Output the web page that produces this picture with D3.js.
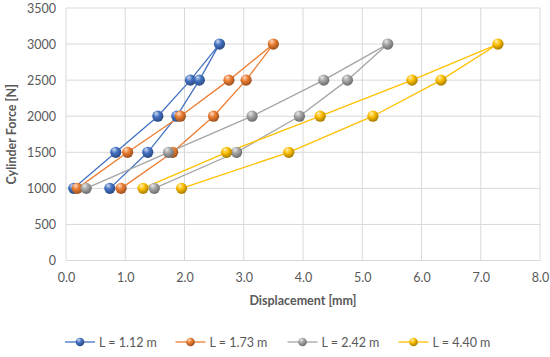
<!DOCTYPE html>
<html><head><meta charset="utf-8">
<script src="https://cdn.jsdelivr.net/npm/d3@7"></script>
<style>body{margin:0;background:#fff}</style>
</head><body>
<svg id="c" width="550" height="357"></svg>
<script>
const seriesNames = ["L = 1.12 m", "L = 1.73 m", "L = 2.42 m", "L = 4.40 m"];
const seriesColors = ["#4472C4", "#ED7D31", "#A5A5A5", "#FFC000"];
const forces = [1000, 1500, 2000, 2500, 3000, 2500, 2000, 1500, 1000];
const disp112 = [0.13, 0.84, 1.55, 2.10, 2.59, 2.25, 1.87, 1.38, 0.74];
const disp173 = [0.19, 1.04, 1.93, 2.75, 3.50, 3.04, 2.49, 1.80, 0.93];
const disp242 = [0.34, 1.73, 3.14, 4.35, 5.43, 4.75, 3.94, 2.88, 1.49];
const disp440 = [1.30, 2.71, 4.29, 5.84, 7.29, 6.33, 5.18, 3.76, 1.95];
const xTicks = [0, 1, 2, 3, 4, 5, 6, 7, 8];
const yTicks = [0, 500, 1000, 1500, 2000, 2500, 3000, 3500];

const allDisp = [disp112, disp173, disp242, disp440];
const svg = d3.select("#c");
const font = "Lato, 'Open Sans', sans-serif";
const x = d3.scaleLinear().domain([0, 8]).range([66, 540]);
const y = d3.scaleLinear().domain([0, 3500]).range([260.5, 8]);

// gradients
const defs = svg.append("defs");
seriesColors.forEach((c, i) => {
  const g = defs.append("radialGradient").attr("id", "g" + i)
    .attr("cx", "40%").attr("cy", "35%").attr("r", "65%").attr("fx", "35%").attr("fy", "25%");
  g.append("stop").attr("offset", "0%").attr("stop-color", d3.interpolateRgb(c, "#fff")(0.75));
  g.append("stop").attr("offset", "45%").attr("stop-color", c);
  g.append("stop").attr("offset", "100%").attr("stop-color", d3.color(c).darker(1.2));
});

// grid
svg.append("g").selectAll("line").data(yTicks).join("line")
  .attr("x1", x(0)).attr("x2", x(8)).attr("y1", d => y(d)).attr("y2", d => y(d))
  .attr("stroke", "#D9D9D9").attr("stroke-width", 1);
svg.append("g").selectAll("line").data(xTicks).join("line")
  .attr("y1", y(0)).attr("y2", y(3500)).attr("x1", d => x(d)).attr("x2", d => x(d))
  .attr("stroke", "#D9D9D9").attr("stroke-width", 1);

// axes tick labels
const xAxis = d3.axisBottom(x).tickValues(xTicks).tickFormat(d3.format(".1f")).tickSize(0).tickPadding(13);
const gx = svg.append("g").attr("transform", `translate(0,${y(0)})`).call(xAxis);
gx.select(".domain").remove();
gx.selectAll("text").attr("font-family", font).attr("font-size", 12.5).attr("fill", "#595959");
const yAxis = d3.axisLeft(y).tickValues(yTicks).tickFormat(d3.format("d")).tickSize(0).tickPadding(10);
const gy = svg.append("g").attr("transform", `translate(${x(0)},0)`).call(yAxis);
gy.select(".domain").remove();
gy.selectAll("text").attr("font-family", font).attr("font-size", 12.5).attr("fill", "#595959");

// titles
svg.append("text").attr("x", 303).attr("y", 305).attr("text-anchor", "middle")
  .attr("font-family", font).attr("font-weight", "bold").attr("font-size", 12.5).attr("fill", "#595959")
  .text("Displacement [mm]");
svg.append("text").attr("transform", `translate(16,${(y(0)+y(3500))/2}) rotate(-90)`).attr("text-anchor", "middle")
  .attr("font-family", font).attr("font-weight", "bold").attr("font-size", 12.5).attr("fill", "#595959")
  .text("Cylinder Force [N]");

// series
const line = d3.line().x(d => x(d[0])).y(d => y(d[1]));
allDisp.forEach((ds, i) => {
  const pts = ds.map((d, j) => [d, forces[j]]);
  svg.append("path").datum(pts).attr("d", line).attr("fill", "none")
    .attr("stroke", seriesColors[i]).attr("stroke-width", 1.3);
});
allDisp.forEach((ds, i) => {
  const pts = ds.map((d, j) => [d, forces[j]]);
  svg.append("g").selectAll("circle").data(pts).join("circle")
    .attr("cx", d => x(d[0])).attr("cy", d => y(d[1])).attr("r", 5.6)
    .attr("fill", `url(#g${i})`);
});

// legend
const legX = [65, 175.5, 287.5, 398.5];
const lg = svg.append("g");
seriesNames.forEach((n, i) => {
  const g = lg.append("g").attr("transform", `translate(${legX[i]},342)`);
  g.append("line").attr("x1", 0).attr("x2", 30).attr("stroke", seriesColors[i]).attr("stroke-width", 1.3);
  g.append("circle").attr("cx", 15).attr("r", 4.3).attr("fill", `url(#g${i})`);
  g.append("text").attr("x", 34).attr("y", 4.5).attr("font-family", font).attr("font-size", 12.5)
    .attr("fill", "#595959").text(n);
});
</script>
</body></html>
